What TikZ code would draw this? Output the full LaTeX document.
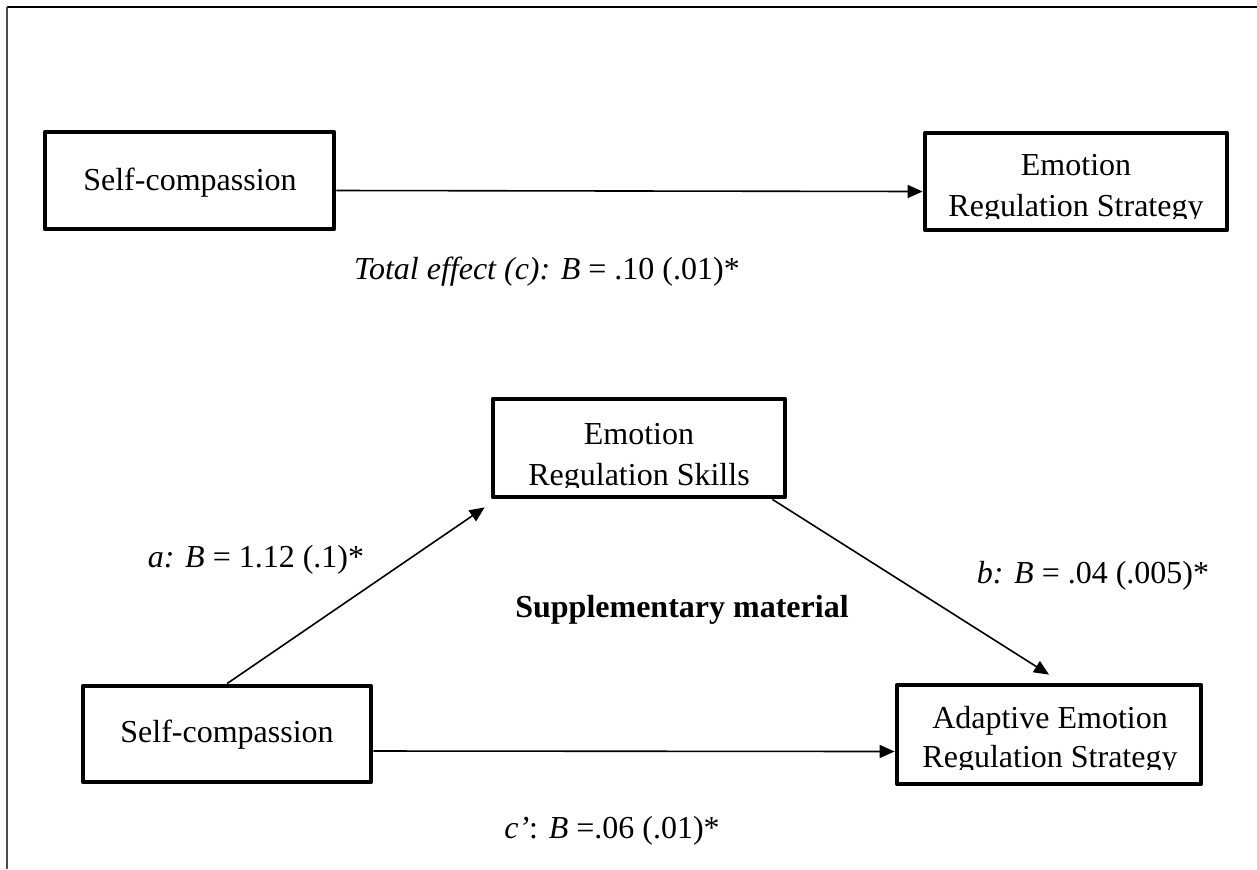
\documentclass[tikz,border=0pt]{standalone}
\usepackage{fontspec}
\setmainfont{Liberation Serif}
\usetikzlibrary{arrows.meta}
\tikzset{
  varbox/.style={draw=black, line width=2.4pt, line join=round, inner sep=0pt},
  boxtext/.style={anchor=base, inner sep=0pt, font=\fontsize{16}{19}\selectfont},
  lab/.style={anchor=base, inner sep=0pt, font=\fontsize{16}{19}\selectfont},
  conn/.style={draw=black, line width=0.8pt, -{Triangle[length=7.5pt,width=6.5pt]}},
}
\begin{document}
\begin{tikzpicture}[x=0.5pt,y=-0.5pt]
\useasboundingbox (0,0) rectangle (1257,869);
% frame
\draw[black, line width=0.9pt] (7,7) -- (1257,7);
\draw[black!70, line width=0.6pt] (7,7) -- (7,869);

% boxes
\node[varbox, minimum width=144.5pt, minimum height=48.5pt] (sc1) at (189.5,180.5) {};
\node[varbox, minimum width=151pt, minimum height=48.5pt] (ers) at (1076,181.5) {};
\node[varbox, minimum width=146pt, minimum height=49pt] (erskills) at (639,448) {};
\node[varbox, minimum width=144pt, minimum height=48pt] (sc2) at (227,734) {};
\node[varbox, minimum width=152pt, minimum height=49.5pt] (adaptive) at (1049,734.5) {};

% box texts
\node[boxtext] (sc1t) at (190,190) {Self-compassion};
\begin{scope}
  \clip (930,138) rectangle (1222,218);
  \node[boxtext] (erst1) at (1076,175) {Emotion};
  \node[boxtext] (erst2) at (1076,216) {Regulation Strategy};
\end{scope}
\begin{scope}
  \clip (498,404) rectangle (780,487);
  \node[boxtext] (erskt1) at (639,444) {Emotion};
  \node[boxtext] (erskt2) at (639,485) {Regulation Skills};
\end{scope}
\node[boxtext] (sc2t) at (227,742) {Self-compassion};
\begin{scope}
  \clip (902,690) rectangle (1196,769);
  \node[boxtext] (adt1) at (1050,728) {Adaptive Emotion};
  \node[boxtext] (adt2) at (1050,767) {Regulation Strategy};
\end{scope}

% connectors
\draw[conn] ([yshift=-5pt]sc1.east) -- ([yshift=-5pt]ers.west);
\draw[conn] (sc2.north) -- ([xshift=-3pt,yshift=-4pt]erskills.south west);
\draw[conn] ([xshift=-7.5pt]erskills.south east) -- ([yshift=4pt]adaptive.north);
\draw[conn] ([yshift=-8.5pt]sc2.east) -- ([yshift=-8.5pt]adaptive.west);

% labels
\node[lab] (ltot) at (547,279) {\textit{Total effect (c): B} = .10 (.01)*};
\node[lab] (la) at (256,567) {\textit{a: B} = 1.12 (.1)*};
\node[lab, font=\fontsize{16}{19}\selectfont\bfseries] (lsupp) at (682,617) {Supplementary material};
\node[lab] (lb) at (1093,583) {\textit{b: B} = .04 (.005)*};
\node[lab] (lc) at (612,838) {\textit{c’}: \textit{B} =.06 (.01)*};
\end{tikzpicture}
\end{document}
